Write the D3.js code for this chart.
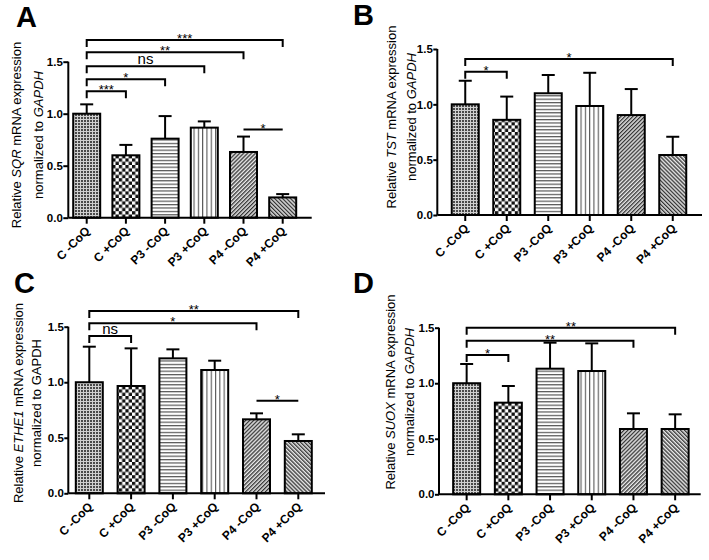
<!DOCTYPE html>
<html>
<head>
<meta charset="utf-8">
<script src="https://cdn.jsdelivr.net/npm/d3@7"></script>
<style>
  html, body { margin: 0; padding: 0; background: #fff; }
  svg { display: block; font-family: "Liberation Sans", Arial, sans-serif; }
</style>
</head>
<body>
<svg id="chart" width="709" height="560"></svg>
<script>
// ---------- DATA ----------
const categories = ["C -CoQ", "C +CoQ", "P3 -CoQ", "P3 +CoQ", "P4 -CoQ", "P4 +CoQ"];
const yTicks = [0, 0.5, 1.0, 1.5];

// Panel A – SQR
const sqrMean = [1.00, 0.60, 0.76, 0.866, 0.632, 0.195];
const sqrSem  = [0.09, 0.10, 0.217, 0.06, 0.148, 0.032];
// Panel B – TST
const tstMean = [1.00, 0.86, 1.10, 0.985, 0.903, 0.542];
const tstSem  = [0.213, 0.21, 0.165, 0.30, 0.235, 0.165];
// Panel C – ETHE1
const ethe1Mean = [1.00, 0.966, 1.215, 1.11, 0.666, 0.471];
const ethe1Sem  = [0.32, 0.339, 0.081, 0.084, 0.054, 0.06];
// Panel D – SUOX
const suoxMean = [1.00, 0.825, 1.131, 1.11, 0.588, 0.588];
const suoxSem  = [0.173, 0.15, 0.234, 0.249, 0.141, 0.132];

// significance annotations: [fromIndex, toIndex, level (y units), label, hasDrops]
const sqrSig   = [[0,5,1.709,"***",true],[0,4,1.59,"**",true],[0,3,1.456,"ns",true],[0,2,1.331,"*",true],[0,1,1.216,"***",true],[4,5,0.847,"*",false]];
const tstSig   = [[0,5,1.409,"*",true],[0,1,1.295,"*",true]];
const ethe1Sig = [[0,5,1.641,"**",true],[0,4,1.53,"*",true],[0,1,1.416,"ns",true],[4,5,0.833,"*",false]];
const suoxSig  = [[0,5,1.50,"**",true],[0,4,1.383,"**",true],[0,1,1.254,"*",true]];

// ---------- LAYOUT ----------
const panels = [
  {letter:"A", gene:"SQR",   geneItalic:true, gapdhItalic:true,  mean:sqrMean,   sem:sqrSem,   sig:sqrSig,
   x0:68.3, xEnd:311.7, y0:217.7, yTop:61.7, bandStart:67.1, step:39.2, lx:16, ly:27, t1:21, t2:43, tc:135, tick:5},
  {letter:"B", gene:"TST",   geneItalic:true, gapdhItalic:true,  mean:tstMean,   sem:tstSem,   sig:tstSig,
   x0:437.3, xEnd:702, y0:215, yTop:49, bandStart:444.5, step:41.5, lx:353, ly:25, t1:396, t2:416, tc:117, tick:4},
  {letter:"C", gene:"ETHE1", geneItalic:true, gapdhItalic:false, mean:ethe1Mean, sem:ethe1Sem, sig:ethe1Sig,
   x0:68.3, xEnd:325, y0:493.3, yTop:326.7, bandStart:68.4, step:41.8, lx:14, ly:293, t1:23, t2:41, tc:403, tick:4},
  {letter:"D", gene:"SUOX",  geneItalic:true, gapdhItalic:true,  mean:suoxMean,  sem:suoxSem,  sig:suoxSig,
   x0:439, xEnd:700.7, y0:494.3, yTop:327.7, bandStart:445.8, step:41.7, lx:353, ly:293, t1:395, t2:414, tc:392, tick:4}
];

const svg = d3.select("#chart");
const defs = svg.append("defs");

// ---------- PATTERNS ----------
function pat(id, w, h, draw, transform) {
  const p = defs.append("pattern").attr("id", id).attr("patternUnits", "userSpaceOnUse")
    .attr("width", w).attr("height", h);
  if (transform) p.attr("patternTransform", transform);
  p.append("rect").attr("width", w).attr("height", h).attr("fill", "#fff");
  draw(p);
}
pat("p0", 3, 3, p => {
  p.append("rect").attr("width", 3).attr("height", 3).attr("fill", "#d0d0d0");
  p.append("rect").attr("x", 0).attr("y", 0).attr("width", 2).attr("height", 2).attr("fill", "#4a4a4a");
});
pat("p1", 6.6, 6.6, p => {
  p.append("rect").attr("x", 0).attr("y", 0).attr("width", 3.3).attr("height", 3.3).attr("fill", "#111");
  p.append("rect").attr("x", 3.3).attr("y", 3.3).attr("width", 3.3).attr("height", 3.3).attr("fill", "#111");
});
pat("p2", 10, 3.4, p => {
  p.append("rect").attr("x", 0).attr("y", 0).attr("width", 10).attr("height", 1.2).attr("fill", "#555");
});
pat("p3", 4.3, 10, p => {
  p.append("rect").attr("x", 0).attr("y", 0).attr("width", 1.1).attr("height", 10).attr("fill", "#555");
});
pat("p4", 2.8, 10, p => {
  p.append("rect").attr("width", 2.8).attr("height", 10).attr("fill", "#e8e8e8");
  p.append("rect").attr("x", 0).attr("y", 0).attr("width", 1.3).attr("height", 10).attr("fill", "#333");
}, "rotate(45)");
pat("p5", 2.8, 10, p => {
  p.append("rect").attr("width", 2.8).attr("height", 10).attr("fill", "#e8e8e8");
  p.append("rect").attr("x", 0).attr("y", 0).attr("width", 1.3).attr("height", 10).attr("fill", "#333");
}, "rotate(-45)");

// ---------- DRAW PANELS ----------
panels.forEach(P => {
  const g = svg.append("g");
  const y = d3.scaleLinear().domain([0, 1.5]).range([P.y0, P.yTop]);
  const x = d3.scaleBand().domain(categories)
    .range([P.bandStart, P.bandStart + P.step * categories.length])
    .paddingInner(1 - 27 / P.step).paddingOuter((1 - 27 / P.step) / 2);
  const cx = c => x(c) + x.bandwidth() / 2;

  // panel letter
  g.append("text").attr("x", P.lx).attr("y", P.ly).text(P.letter)
    .attr("font-size", 29).attr("font-weight", "bold").attr("fill", "#000");

  // y-axis title
  const t = g.append("text").attr("font-size", 13).attr("text-anchor", "middle").attr("fill", "#000")
    .attr("transform", `translate(${P.t1},${P.tc}) rotate(-90)`);
  t.append("tspan").text("Relative ");
  t.append("tspan").text(P.gene).attr("font-style", P.geneItalic ? "italic" : "normal");
  t.append("tspan").text(" mRNA expression");
  const t2 = g.append("text").attr("font-size", 13).attr("text-anchor", "middle").attr("fill", "#000")
    .attr("transform", `translate(${P.t2},${P.tc}) rotate(-90)`);
  t2.append("tspan").text("normalized to ");
  t2.append("tspan").text("GAPDH").attr("font-style", P.gapdhItalic ? "italic" : "normal");

  // bars
  g.selectAll("rect.bar").data(categories).enter().append("rect").attr("class", "bar")
    .attr("x", c => x(c)).attr("width", x.bandwidth())
    .attr("y", (c, i) => y(P.mean[i])).attr("height", (c, i) => y(0) - y(P.mean[i]))
    .attr("fill", (c, i) => `url(#p${i})`).attr("stroke", "#000").attr("stroke-width", 2);

  // error bars (upper only)
  g.selectAll("line.err").data(categories).enter().append("line").attr("class", "err")
    .attr("x1", c => cx(c)).attr("x2", c => cx(c))
    .attr("y1", (c, i) => y(P.mean[i])).attr("y2", (c, i) => y(P.mean[i] + P.sem[i]))
    .attr("stroke", "#000").attr("stroke-width", 2);
  g.selectAll("line.cap").data(categories).enter().append("line").attr("class", "cap")
    .attr("x1", c => cx(c) - 6.5).attr("x2", c => cx(c) + 6.5)
    .attr("y1", (c, i) => y(P.mean[i] + P.sem[i])).attr("y2", (c, i) => y(P.mean[i] + P.sem[i]))
    .attr("stroke", "#000").attr("stroke-width", 2);

  // y axis
  const yAxis = d3.axisLeft(y).tickValues(yTicks).tickFormat(d3.format(".1f")).tickSizeInner(P.tick).tickSizeOuter(0).tickPadding(0.5);
  const ya = g.append("g").attr("transform", `translate(${P.x0},0)`).call(yAxis);
  ya.select(".domain").attr("stroke-width", 2).attr("d", `M0,${P.y0}V${P.yTop}`);
  ya.selectAll(".tick line").attr("stroke-width", 2);
  ya.selectAll(".tick text").attr("font-size", 11.5).attr("font-weight", "bold")
    .attr("font-family", "Liberation Sans, Arial, sans-serif").attr("fill", "#000");

  // x axis
  const xAxis = d3.axisBottom(x).tickSizeInner(6).tickSizeOuter(0).tickFormat("");
  const xa = g.append("g").attr("transform", `translate(0,${P.y0})`).call(xAxis);
  xa.select(".domain").attr("stroke-width", 2).attr("d", `M${P.x0},0H${P.xEnd}`);
  xa.selectAll(".tick line").attr("stroke-width", 2);

  // category labels
  g.selectAll("text.cat").data(categories).enter().append("text").attr("class", "cat")
    .attr("transform", c => `translate(${cx(c) + 4},${P.y0 + 14}) rotate(-45)`)
    .attr("text-anchor", "end").attr("font-size", 12).attr("font-weight", "bold").attr("fill", "#000")
    .text(c => c);

  // significance brackets
  P.sig.forEach(([a, b, lvl, lab, drops]) => {
    const xa1 = cx(categories[a]), xb1 = cx(categories[b]), yy = y(lvl);
    const path = drops ? `M${xa1},${yy + 7}V${yy}H${xb1}V${yy + 7}` : `M${xa1},${yy}H${xb1}`;
    g.append("path").attr("d", path).attr("fill", "none").attr("stroke", "#000").attr("stroke-width", 2);
    const isNs = lab === "ns";
    g.append("text").attr("x", (xa1 + xb1) / 2).attr("y", isNs ? yy - 2 : yy + 3)
      .attr("text-anchor", "middle").attr("font-size", isNs ? 15 : 13).attr("fill", "#000").text(lab);
  });
});
</script>
</body>
</html>
